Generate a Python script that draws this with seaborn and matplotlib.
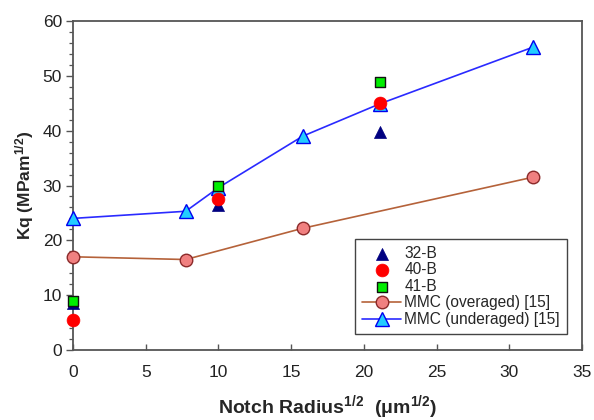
import matplotlib
matplotlib.use("Agg")
import matplotlib.pyplot as plt
from matplotlib.ticker import MultipleLocator
import seaborn as sns
import numpy as np

# square root of notch radius (um^1/2)
x_mmc_over = [0.0, 7.75, 15.8, 31.6]
y_mmc_over = [17.0, 16.5, 22.2, 31.5]

x_mmc_under = [0.0, 7.75, 10.0, 15.8, 21.1, 31.6]
y_mmc_under = [24.0, 25.3, 29.6, 39.0, 44.9, 55.2]

x_tests = [0.0, 10.0, 21.1]
y_32b = [8.6, 26.4, 39.7]
y_40b = [5.5, 27.6, 45.0]
y_41b = [9.0, 30.0, 48.9]

x_ticks = [0, 5, 10, 15, 20, 25, 30, 35]
y_ticks = [0, 10, 20, 30, 40, 50, 60]

sns.set_style("ticks")
plt.rcParams["font.family"] = ["Liberation Sans", "DejaVu Sans"]
plt.rcParams["mathtext.default"] = "regular"

fig = plt.figure(figsize=(5.94, 4.2), dpi=100)
ax = fig.add_axes([73 / 594, 1 - 350 / 420, 509 / 594, 329 / 420])

sns.lineplot(x=x_mmc_over, y=y_mmc_over, ax=ax, color="#b5623a", linewidth=1.2,
             marker="o", markersize=9, markerfacecolor="#f08080",
             markeredgecolor="#8b2a2a", markeredgewidth=1.0,
             label="MMC (overaged) [15]", clip_on=False, zorder=3)
sns.lineplot(x=x_mmc_under, y=y_mmc_under, ax=ax, color="#2a2aff", linewidth=1.2,
             marker="^", markersize=9.5, markerfacecolor="#22ccff",
             markeredgecolor="#0000ee", markeredgewidth=1.0,
             label="MMC (underaged) [15]", clip_on=False, zorder=3)

sns.scatterplot(x=x_tests, y=y_32b, ax=ax, marker="^", s=75, color="#000080",
                edgecolor="#000080", linewidth=0.5, label="32-B",
                clip_on=False, zorder=4)
sns.scatterplot(x=x_tests, y=y_40b, ax=ax, marker="o", s=85, color="#ff0000",
                edgecolor="#ff0000", linewidth=0.5, label="40-B",
                clip_on=False, zorder=5)
sns.scatterplot(x=x_tests, y=y_41b, ax=ax, marker="s", s=48, color="#00ee00",
                edgecolor="#111111", linewidth=1.0, label="41-B",
                clip_on=False, zorder=6)

ax.set_xlim(0, 35)
ax.set_ylim(0, 60)
ax.set_xticks(x_ticks)
ax.set_yticks(y_ticks)
ax.yaxis.set_minor_locator(MultipleLocator(2))

for side in ["left", "right", "top", "bottom"]:
    ax.spines[side].set_visible(True)
    ax.spines[side].set_color("#555555")
    ax.spines[side].set_linewidth(1.3)

ax.tick_params(axis="x", which="major", direction="in", length=4, width=1.0,
               color="#555555", labelsize=12.5, pad=11, labelcolor="#222222")
ax.tick_params(axis="y", which="major", direction="out", length=5, width=1.0,
               color="#555555", labelsize=12.5, pad=3, labelcolor="#222222")
ax.tick_params(axis="y", which="minor", direction="out", length=3, width=0.9,
               color="#555555")

ax.set_xlabel(r"Notch Radius$^{1/2}$  ($\mu$m$^{1/2}$)", fontsize=14,
              fontweight="bold", labelpad=9)
ax.set_ylabel(r"Kq (MPam$^{1/2}$)", fontsize=12.5, fontweight="bold", labelpad=5)

handles, labels = ax.get_legend_handles_labels()
order = ["32-B", "40-B", "41-B", "MMC (overaged) [15]", "MMC (underaged) [15]"]
hl = dict(zip(labels, handles))
leg = ax.legend([hl[k] for k in order], order, loc="lower right",
                bbox_to_anchor=(0.9705, 0.0485), fontsize=11.2, frameon=True,
                fancybox=False, framealpha=1, edgecolor="#444444",
                labelspacing=0.1, handlelength=2.5, handletextpad=0.2,
                borderpad=0.45, borderaxespad=0)
leg.get_frame().set_linewidth(1.0)

fig.savefig("out.png", dpi=100)
